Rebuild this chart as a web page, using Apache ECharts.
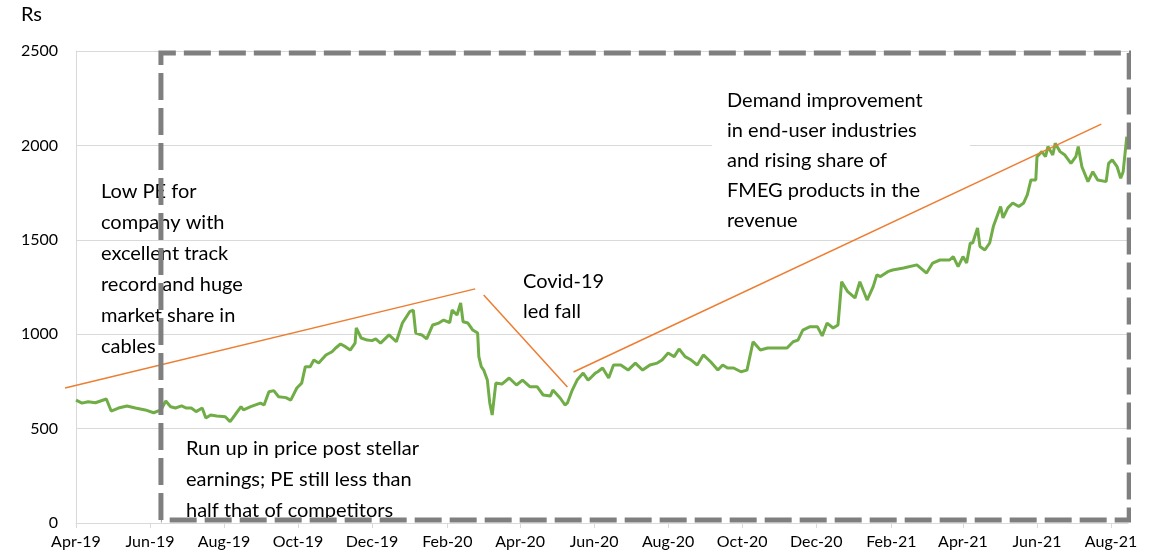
<!DOCTYPE html>
<html>
<head>
<meta charset="utf-8">
<script src="https://cdn.jsdelivr.net/npm/echarts@6/dist/echarts.min.js"></script>
<style>
html,body{margin:0;padding:0;background:#fff;}
#chart{width:1154px;height:556px;}
</style>
</head>
<body>
<div id="chart"></div>
<script>
// ---- data ----
const dates = [
'2019-04-01','2019-04-06','2019-04-11','2019-04-17','2019-04-26','2019-04-30','2019-05-06','2019-05-13','2019-05-20','2019-05-28',
'2019-06-04','2019-06-10','2019-06-14','2019-06-18','2019-06-22','2019-06-27','2019-07-01','2019-07-05','2019-07-09','2019-07-14',
'2019-07-17','2019-07-21','2019-07-26','2019-08-02','2019-08-06','2019-08-10','2019-08-15','2019-08-17','2019-08-23','2019-08-31',
'2019-09-03','2019-09-07','2019-09-11','2019-09-15','2019-09-21','2019-09-25','2019-09-30','2019-10-04','2019-10-07','2019-10-11',
'2019-10-14','2019-10-18','2019-10-24','2019-10-29','2019-11-01','2019-11-05','2019-11-09','2019-11-13','2019-11-17','2019-11-18',
'2019-11-22','2019-11-27','2019-12-01','2019-12-04','2019-12-08','2019-12-15','2019-12-21','2019-12-26','2020-01-01','2020-01-04',
'2020-01-06','2020-01-11','2020-01-15','2020-01-20','2020-01-25','2020-01-29','2020-02-03','2020-02-05','2020-02-09','2020-02-12',
'2020-02-14','2020-02-18','2020-02-22','2020-02-26','2020-02-27','2020-02-29','2020-03-02','2020-03-05','2020-03-07','2020-03-09',
'2020-03-12','2020-03-17','2020-03-23','2020-03-29','2020-04-03','2020-04-09','2020-04-15','2020-04-20','2020-04-26','2020-04-28',
'2020-05-04','2020-05-08','2020-05-10','2020-05-14','2020-05-18','2020-05-23','2020-05-27','2020-05-29','2020-06-02','2020-06-04',
'2020-06-08','2020-06-13','2020-06-17','2020-06-23','2020-06-29','2020-07-05','2020-07-11','2020-07-17','2020-07-23','2020-07-27',
'2020-08-01','2020-08-06','2020-08-10','2020-08-15','2020-08-20','2020-08-25','2020-08-30','2020-09-05','2020-09-11','2020-09-15',
'2020-09-19','2020-09-24','2020-09-30','2020-10-05','2020-10-10','2020-10-16','2020-10-22','2020-10-27','2020-11-01','2020-11-07',
'2020-11-12','2020-11-16','2020-11-20','2020-11-26','2020-12-02','2020-12-06','2020-12-10','2020-12-15','2020-12-19','2020-12-22',
'2020-12-27','2021-01-02','2021-01-06','2021-01-12','2021-01-17','2021-01-20','2021-01-23','2021-01-29','2021-02-02','2021-02-11',
'2021-02-22','2021-03-02','2021-03-07','2021-03-13','2021-03-21','2021-03-24','2021-03-28','2021-04-01','2021-04-04','2021-04-07',
'2021-04-09','2021-04-13','2021-04-15','2021-04-19','2021-04-23','2021-04-26','2021-05-02','2021-05-04','2021-05-08','2021-05-12',
'2021-05-17','2021-05-21','2021-05-24','2021-05-27','2021-05-31','2021-06-01','2021-06-05','2021-06-08','2021-06-10','2021-06-14',
'2021-06-16','2021-06-20','2021-06-24','2021-06-29','2021-07-03','2021-07-05','2021-07-08','2021-07-13','2021-07-17','2021-07-21',
'2021-07-28','2021-07-30','2021-08-02','2021-08-06','2021-08-09','2021-08-11','2021-08-14'
];
const prices = [
651,635,642,637,657,593,609,620,609,599,
584,599,646,616,609,620,609,609,590,609,
556,572,567,563,537,572,616,599,616,635,
625,695,701,669,664,651,715,741,828,828,
863,847,890,907,927,948,934,916,953,1033,
980,969,966,975,953,996,960,1059,1119,1128,
1006,996,975,1049,1059,1075,1061,1128,1102,1165,
1066,1059,1022,1006,881,828,810,757,636,572,
741,736,768,731,757,722,722,678,673,704,
662,625,636,704,757,794,757,768,794,801,
821,768,837,837,810,847,810,837,847,863,
900,881,922,881,863,837,890,854,810,837,
821,821,801,810,960,916,927,927,927,927,
960,969,1022,1040,1040,991,1059,1033,1049,1278,
1225,1192,1278,1181,1252,1314,1305,1331,1340,1351,
1367,1324,1377,1393,1393,1411,1358,1411,1377,1483,
1483,1563,1464,1446,1483,1570,1676,1616,1669,1695,
1676,1695,1738,1817,1817,1940,1967,1940,1994,1949,
2011,1967,1949,1905,1940,1994,1887,1808,1861,1817,
1808,1905,1923,1887,1826,1861,2046
];
const xTickDates = ['2019-04-01','2019-06-01','2019-08-01','2019-10-01','2019-12-01','2020-02-01','2020-04-01',
  '2020-06-01','2020-08-01','2020-10-01','2020-12-01','2021-02-01','2021-04-01','2021-06-01','2021-08-01'];
const monthNames = ['Jan','Feb','Mar','Apr','May','Jun','Jul','Aug','Sep','Oct','Nov','Dec'];
const xMin = '2019-04-01';
const xMax = '2021-08-15';
const yTicks = [0, 500, 1000, 1500, 2000, 2500];

// annotation trend lines (data coordinates)
const trend1 = [['2019-03-23', 715], ['2020-02-24', 1240]];
const trend2 = [['2020-03-02', 1208], ['2020-05-10', 720]];
const trend3 = [['2020-05-15', 800], ['2021-07-24', 2113]];
// dashed highlight box (data coordinates)
const boxPts = [['2019-06-10', 16], ['2019-06-10', 2490], ['2021-08-16', 2490], ['2021-08-16', 16], ['2019-06-10', 16]];

const noteLowPE = ['Low PE for', 'company with', 'excellent track', 'record and huge', 'market share in', 'cables'];
const noteRunUp = ['Run up in price post stellar', 'earnings; PE still less than', 'half that of competitors'];
const noteCovid = ['Covid-19', 'led fall'];
const noteDemand = ['Demand improvement', 'in end-user industries', 'and rising share of', 'FMEG products in the', 'revenue'];

function ts(s) { const p = s.split('-').map(Number); return Date.UTC(p[0], p[1]-1, p[2]); }

const FONT = 'Lato, "Noto Sans", sans-serif';
const chart = echarts.init(document.getElementById('chart'));
const tickVals = xTickDates.map(ts);

function note(lines, left, top, lh) {
  return { type: 'text', left: left, top: top, z: 1,
    style: { text: lines.join('\n'), font: '20px ' + FONT, fill: '#000', lineHeight: lh } };
}

chart.setOption({
  animation: false,
  grid: { left: 76, right: 26, top: 51, bottom: 33, containLabel: false },
  xAxis: {
    type: 'value', min: ts(xMin), max: ts(xMax),
    axisLine: { show: true, lineStyle: { color: '#d9d9d9', width: 1 } },
    axisTick: { show: true, length: 5, lineStyle: { color: '#d9d9d9' }, customValues: tickVals },
    axisLabel: { customValues: tickVals, color: '#000', fontFamily: FONT, fontSize: 16, margin: 11,
      formatter: v => { const d = new Date(v); return monthNames[d.getUTCMonth()] + '-' + String(d.getUTCFullYear()).slice(2); } },
    splitLine: { show: false }, minorTick: { show: false }
  },
  yAxis: {
    type: 'value', min: yTicks[0], max: yTicks[yTicks.length-1], interval: 500,
    axisLine: { show: true, lineStyle: { color: '#d9d9d9', width: 1 } },
    axisTick: { show: false },
    axisLabel: { color: '#000', fontFamily: FONT, fontSize: 16, margin: 18, formatter: v => String(v) },
    splitLine: { show: true, lineStyle: { color: '#d9d9d9', width: 1 } }
  },
  series: [
    { type: 'line', data: dates.map((d, i) => [ts(d), prices[i]]), showSymbol: false, z: 3,
      lineStyle: { color: '#70ad47', width: 3 }, itemStyle: { color: '#70ad47' } },
    { type: 'line', data: boxPts.map(p => [ts(p[0]), p[1]]), showSymbol: false, clip: false, z: 5,
      lineStyle: { color: '#7f7f7f', width: 5, type: [27, 8], cap: 'butt', join: 'miter' } }
  ]
});

function px(p) { return chart.convertToPixel({ gridIndex: 0 }, [ts(p[0]), p[1]]); }
function trendLine(t) {
  const a = px(t[0]), b = px(t[1]);
  return { type: 'line', z: 4, shape: { x1: a[0], y1: a[1], x2: b[0], y2: b[1] },
    style: { stroke: '#ed7d31', lineWidth: 1.5 } };
}

chart.setOption({
  graphic: [
    { type: 'text', left: 21, top: 5, z: 1, style: { text: 'Rs', font: '20px ' + FONT, fill: '#000' } },
    { type: 'rect', left: 170, top: 432, z: 1, shape: { width: 304, height: 86 }, style: { fill: '#fff' } },
    { type: 'rect', left: 712, top: 86, z: 1, shape: { width: 258, height: 148 }, style: { fill: '#fff' } },
    note(noteLowPE, 101, 176, 31),
    note(noteRunUp, 186, 433, 31),
    note(noteCovid, 523, 267, 30),
    note(noteDemand, 727, 86, 30),
    trendLine(trend1), trendLine(trend2), trendLine(trend3)
  ]
});
</script>
</body>
</html>
